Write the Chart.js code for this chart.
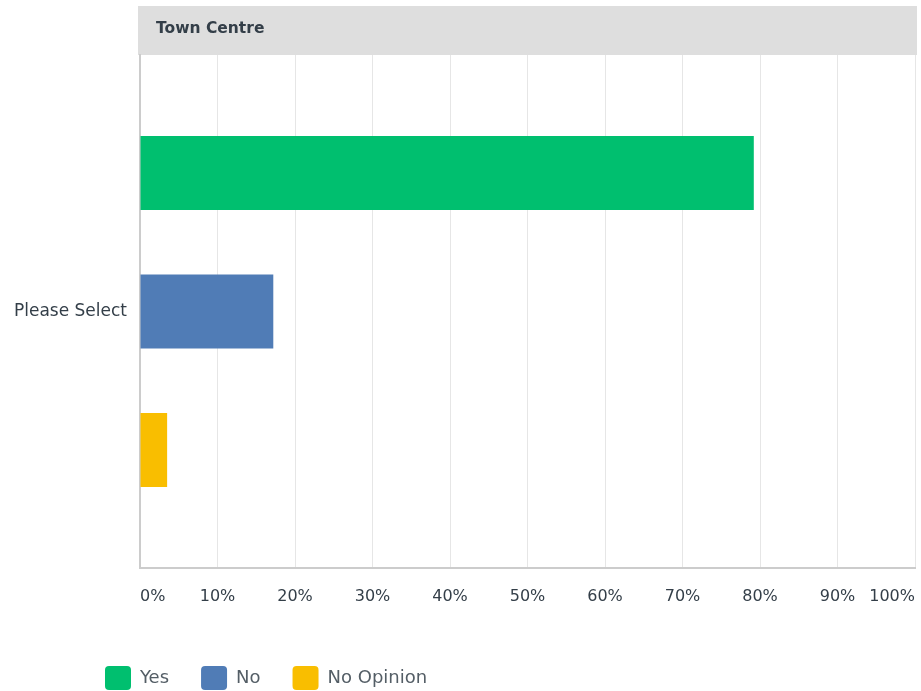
<!DOCTYPE html>
<html>
<head>
<meta charset="utf-8">
<script src="https://cdn.jsdelivr.net/npm/chart.js@4"></script>
<style>
  html, body { margin: 0; padding: 0; background: #ffffff; }
  #wrap { width: 921px; height: 691px; }
</style>
</head>
<body>
<div id="wrap"><canvas id="c" width="921" height="691"></canvas></div>
<script>
const chartTitle = "Town Centre";
const categories = ["Please Select"];
const seriesNames = ["Yes", "No", "No Opinion"];
const yesValues = [79.2];
const noValues = [17.2];
const noOpinionValues = [3.5];
const seriesColors = ["#00bf6f", "#507cb6", "#f9be00"];
const xTickValues = [0, 10, 20, 30, 40, 50, 60, 70, 80, 90, 100];

const FONT = "'DejaVu Sans', sans-serif";
const TEXT = "#333e48";

const titleBar = {
  id: 'titleBar',
  afterLayout(chart) {
    if (chart.legend) { chart.legend.left = 73; }
  },
  beforeDraw(chart) {
    const { ctx, chartArea } = chart;
    ctx.save();
    ctx.fillStyle = '#dedede';
    ctx.fillRect(chartArea.left - 2, chartArea.top - 49, chartArea.right - chartArea.left + 4, 49);
    ctx.fillStyle = TEXT;
    ctx.font = "bold 15.5px " + FONT;
    ctx.textBaseline = 'middle';
    ctx.textAlign = 'left';
    ctx.fillText(chartTitle, chartArea.left + 16, chartArea.top - 26);
    ctx.restore();
  }
};

new Chart(document.getElementById('c'), {
  type: 'bar',
  data: {
    labels: categories,
    datasets: [
      { label: seriesNames[0], data: yesValues, backgroundColor: seriesColors[0] },
      { label: seriesNames[1], data: noValues, backgroundColor: seriesColors[1] },
      { label: seriesNames[2], data: noOpinionValues, backgroundColor: seriesColors[2] }
    ]
  },
  options: {
    indexAxis: 'y',
    responsive: false,
    animation: false,
    devicePixelRatio: 1,
    layout: { padding: { left: 0, top: 55, right: 6, bottom: -9 } },
    datasets: { bar: { categoryPercentage: 0.81, barPercentage: 0.535 } },
    scales: {
      x: {
        min: 0, max: 100,
        afterFit(scale) { scale.height = 66; scale.paddingLeft = 0; scale.paddingRight = 0; },
        afterBuildTicks(scale) { scale.ticks = xTickValues.map(v => ({ value: v })); },
        grid: { color: '#e6e6e6', lineWidth: 1, drawTicks: false },
        border: { display: true, color: '#cccccc', width: 2 },
        ticks: {
          align: 'inner',
          padding: 19,
          color: TEXT,
          font: { family: FONT, size: 16 },
          callback: v => v + '%'
        }
      },
      y: {
        afterFit(scale) { scale.width = 140; scale.paddingTop = 0; scale.paddingBottom = 0; },
        grid: { display: false, drawTicks: false },
        border: { display: true, color: '#cccccc', width: 2 },
        ticks: {
          padding: 13,
          color: TEXT,
          font: { family: FONT, size: 17 }
        }
      }
    },
    plugins: {
      tooltip: { enabled: false },
      title: { display: false },
      legend: {
        position: 'bottom',
        align: 'start',
        labels: {
          boxWidth: 26,
          boxHeight: 24,
          useBorderRadius: true,
          borderRadius: 4,
          padding: 32,
          color: '#545e66',
          font: { family: FONT, size: 18 }
        }
      }
    }
  },
  plugins: [titleBar]
});
</script>
</body>
</html>
